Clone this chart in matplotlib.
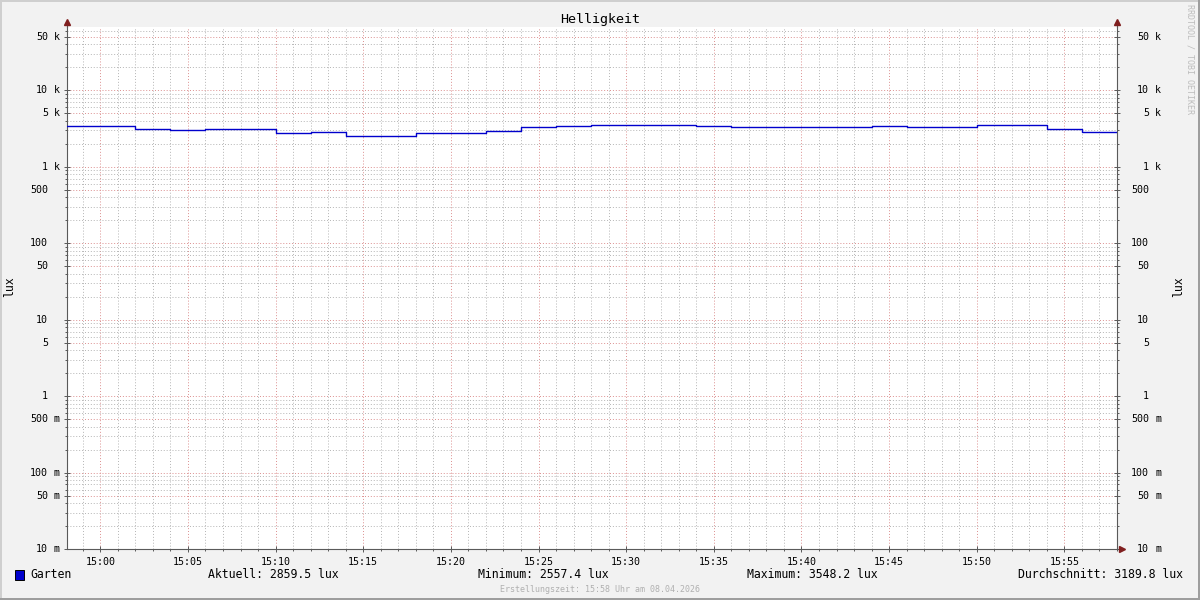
import matplotlib
matplotlib.use("Agg")
import numpy as np
import pandas as pd
import matplotlib.pyplot as plt
import matplotlib.dates as mdates
from matplotlib.patches import Rectangle
from matplotlib.transforms import blended_transform_factory

# Daten: Helligkeit Garten, Mittelwerte je 2 Minuten (lux)
tag = "2026-04-08"
zeiten = ["14:58", "15:00", "15:02", "15:04", "15:06", "15:08", "15:10", "15:12",
          "15:14", "15:16", "15:18", "15:20", "15:22", "15:24", "15:26", "15:28",
          "15:30", "15:32", "15:34", "15:36", "15:38", "15:40", "15:42", "15:44",
          "15:46", "15:48", "15:50", "15:52", "15:54", "15:56"]
lux = [3420, 3420, 3110, 3020, 3110, 3110, 2780, 2840,
       2557.4, 2557.4, 2780, 2780, 2930, 3320, 3420, 3548.2,
       3548.2, 3548.2, 3420, 3320, 3320, 3320, 3320, 3420,
       3320, 3320, 3540, 3540, 3130, 2859.5]
start = "14:58:06"
ende = "15:58:00"

y_ticks = [0.01, 0.05, 0.1, 0.5, 1, 5, 10, 50, 100, 500, 1000, 5000, 10000, 50000]
y_zahlen = ["10", "50", "100", "500", "1", "5", "10", "50", "100", "500", "1", "5", "10", "50"]
y_einheit = ["m", "m", "m", "m", "", "", "", "", "", "", "k", "k", "k", "k"]
y_max = 67600

legende = [("Aktuell: 2859.5 lux", 208), ("Minimum: 2557.4 lux", 478),
           ("Maximum: 3548.2 lux", 747)]
schnitt = "Durchschnitt: 3189.8 lux"

# Farben wie rrdtool
c_back = "#f2f2f2"
c_grid = "#b4b4b4"
c_mgrid = "#dc8f8f"
c_arrow = "#801f1f"
c_axis = "#5a5a5a"
c_line = "#0000cc"
mono = "DejaVu Sans Mono"

W, H = 1200, 600
fig = plt.figure(figsize=(12, 6), dpi=100, facecolor=c_back)
x0, x1, y0, y1 = 67, 1117, 549, 27
ax = fig.add_axes([x0 / W, 1 - y0 / H, (x1 - x0) / W, (y0 - y1) / H])
ax.set_facecolor("white")

t = pd.to_datetime([f"{tag} {z}" for z in zeiten])
t_ende = pd.Timestamp(f"{tag} {ende}")
tx = list(t) + [t_ende]
vy = lux + [lux[-1]]
ax.step(tx, vy, where="post", color=c_line, lw=1.0, zorder=4)

ax.set_yscale("log")
ax.set_ylim(0.01, y_max)
ax.set_xlim(pd.Timestamp(f"{tag} {start}"), t_ende)

# Gitter
ax.xaxis.set_major_locator(mdates.MinuteLocator(byminute=range(0, 60, 5)))
ax.xaxis.set_minor_locator(mdates.MinuteLocator())
ax.xaxis.set_major_formatter(mdates.DateFormatter("%H:%M"))
ax.yaxis.set_major_locator(matplotlib.ticker.FixedLocator(y_ticks))
ax.yaxis.set_minor_locator(matplotlib.ticker.LogLocator(base=10, subs=np.arange(2, 10), numticks=20))
ax.yaxis.set_major_formatter(matplotlib.ticker.NullFormatter())
ax.yaxis.set_minor_formatter(matplotlib.ticker.NullFormatter())
dots = (0, (1, 2))
ax.grid(True, which="minor", color=c_grid, lw=0.7, linestyle=dots)
ax.grid(True, which="major", color=c_mgrid, lw=0.7, linestyle=dots)
ax.set_axisbelow(True)

ax.spines["top"].set_visible(False)
for s in ["left", "right", "bottom"]:
    ax.spines[s].set_color(c_axis)
    ax.spines[s].set_linewidth(0.8)

ax.tick_params(axis="both", which="both", direction="in", color=c_axis, width=0.7,
               left=True, right=True, bottom=True, top=False, labelleft=False, labelright=False)
ax.tick_params(axis="y", which="major", direction="inout", length=4)
ax.tick_params(axis="y", which="minor", direction="out", length=1.5)
ax.tick_params(axis="x", which="major", direction="inout", length=4, pad=3.5,
               labelsize=7.2, labelcolor="black")
ax.tick_params(axis="x", which="minor", direction="out", length=1.5)
for lab in ax.get_xticklabels():
    lab.set_fontfamily(mono)

# Y-Beschriftung links und rechts (Zahl rechtsbündig, Einheit dahinter)
tr = blended_transform_factory(ax.transAxes, ax.transData)
def px(x):
    return (x - x0) / (x1 - x0)
for v, z, e in zip(y_ticks, y_zahlen, y_einheit):
    for xr in (48, 1149):
        ax.text(px(xr), v, z, transform=tr, ha="right", va="center", fontsize=7.2,
                family=mono, clip_on=False)
        if e:
            ax.text(px(xr + 6), v, e, transform=tr, ha="left", va="center", fontsize=7.2,
                    family=mono, clip_on=False)

# Pfeile an den Achsen
ax.plot([0, 0], [1, 1.009], color=c_axis, lw=0.8, transform=ax.transAxes, clip_on=False)
ax.plot([1, 1], [1, 1.009], color=c_axis, lw=0.8, transform=ax.transAxes, clip_on=False)
ax.plot([1, 1.003], [0, 0], color=c_axis, lw=0.8, transform=ax.transAxes, clip_on=False)
ax.plot([0], [1.0105], marker="^", ms=4, color=c_arrow, mec=c_arrow, transform=ax.transAxes, clip_on=False)
ax.plot([1], [1.0105], marker="^", ms=4, color=c_arrow, mec=c_arrow, transform=ax.transAxes, clip_on=False)
ax.plot([1.0048], [0], marker=">", ms=4, color=c_arrow, mec=c_arrow, transform=ax.transAxes, clip_on=False)

# Texte
fig.text(0.5, 1 - 19 / H, "Helligkeit", ha="center", va="center", fontsize=9.6, family=mono)
fig.text(10 / W, 1 - 287 / H, "lux", rotation=90, ha="center", va="center", fontsize=8.3, family=mono)
fig.text(1179 / W, 1 - 287 / H, "lux", rotation=90, ha="center", va="center", fontsize=8.3, family=mono)
fig.text(1190 / W, 1 - 4 / H, "RRDTOOL / TOBI OETIKER", rotation=270, ha="center", va="top",
         fontsize=6, family=mono, color="#bdbdbd")

ly = 1 - 575 / H
fig.patches.append(Rectangle((15 / W, 1 - 580 / H), 9 / W, 10 / H, transform=fig.transFigure,
                             facecolor=c_line, edgecolor="black", lw=0.7, figure=fig))
fig.text(30 / W, ly, "Garten", ha="left", va="center", fontsize=8.3, family=mono)
for txt, xl in legende:
    fig.text(xl / W, ly, txt, ha="left", va="center", fontsize=8.3, family=mono)
fig.text(1183 / W, ly, schnitt, ha="right", va="center", fontsize=8.3, family=mono)
fig.text(0.5, 1 - 589 / H, "Erstellungszeit: 15:58 Uhr am 08.04.2026", ha="center", va="center",
         fontsize=6, family=mono, color="#b0b0b0")

# Rahmen
for (rx, ry, rw, rh, c) in [(0, H - 2, W, 2, "#cfcfcf"), (0, 0, 2, H, "#cfcfcf"),
                            (0, 0, W, 2, "#9e9e9e"), (W - 2, 0, 2, H, "#9e9e9e")]:
    fig.patches.append(Rectangle((rx / W, ry / H), rw / W, rh / H, transform=fig.transFigure,
                                 facecolor=c, edgecolor="none", figure=fig))

fig.savefig("out.png", dpi=100, facecolor=c_back)
plt.close(fig)
